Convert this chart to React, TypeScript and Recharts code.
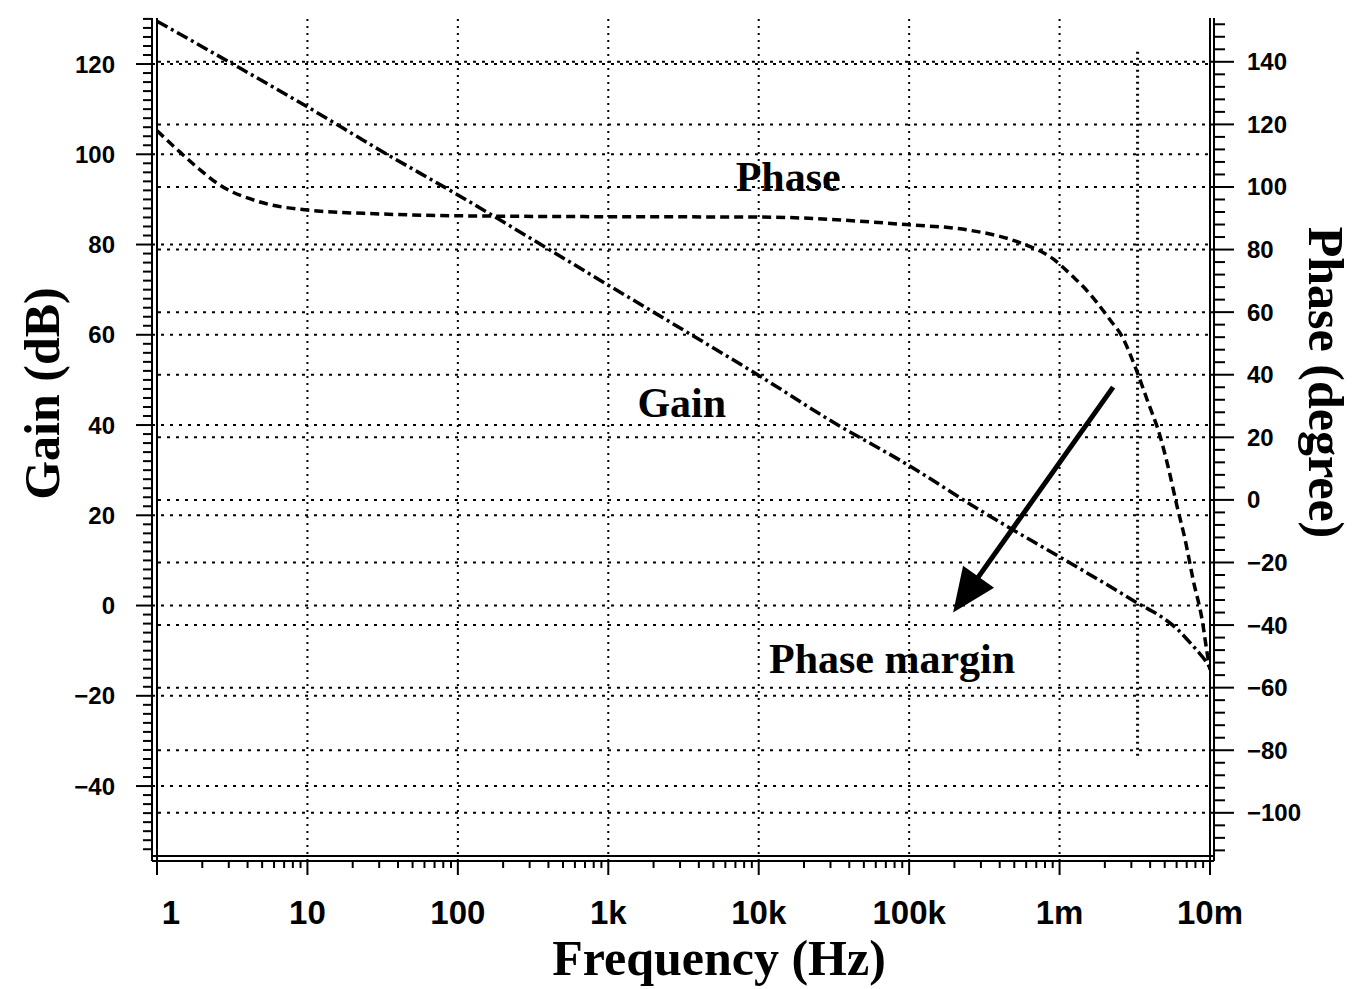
import { LineChart, Line, XAxis, YAxis, ReferenceLine, ReferenceDot } from 'recharts';

// gain curve (Hz, dB)
const gainFreq = [1, 3, 10, 30, 100, 300, 1e3, 3e3, 1e4, 3e4, 1e5, 3e5, 1e6, 2e6, 3.28e6, 5e6, 6.05e6, 7e6, 8.22e6, 9.5e6, 1e7];
const gainDb = [129.5, 120.5, 110.5, 101, 91, 81.5, 71, 61.5, 51, 41, 31, 21, 10.8, 4.9, 0.6, -3.0, -5.2, -7.4, -10, -12.6, -13.8];

// phase curve (Hz, degree)
const phaseFreq = [
  1, 1.36, 1.93, 2.6, 4.84, 9.6, 30, 100, 1e3, 1e4, 1e5, 2.43e5, 5.23e5, 9.06e5, 1.23e6, 1.44e6, 2.17e6, 2.61e6,
  3.18e6, 3.82e6, 4.67e6, 5.27e6, 6.05e6, 6.84e6, 7.73e6, 8.87e6, 9.57e6, 1e7,
];
const phaseDeg = [
  118, 112, 105.5, 100.7, 95.2, 92.7, 91.4, 90.8, 90.5, 90.4, 87.9, 86.3, 82.5, 77, 71.3, 68.1, 57.5, 52.1,
  42.5, 32, 20.2, 10.5, -2.2, -12.8, -25.6, -38.4, -48.9, -54.3,
];

const decades = [1, 10, 100, 1e3, 1e4, 1e5, 1e6, 1e7];
const decadeLabels = ['1', '10', '100', '1k', '10k', '100k', '1m', '10m'];

const gainDomain = [-55.5, 130.2];
const phaseDomain = [-113.8, 154];
const gainGrid = [120, 100, 80, 60, 40, 20, 0, -20, -40];
const phaseGrid = [140, 120, 100, 80, 60, 40, 20, 0, -20, -40, -60, -80, -100];

// crossover marker and annotation
const crossFreq = 3.3e6;
const crossSpan = [122.7, -34];
const arrowFrom = { f: 2.27e6, g: 48.4 };
const arrowTo = { f: 1.96e5, g: -1.55 };
const noteText = ['Phase', 'Gain', 'Phase margin'];
const noteFreq = [15700, 3080, 77000];
const noteGain = [91.9, 41.7, -14.9];

const gainData = gainFreq.map((f, i) => ({ f, v: gainDb[i] }));
const phaseData = phaseFreq.map((f, i) => ({ f, v: phaseDeg[i] }));

const xTicks: number[] = [];
decades.slice(0, -1).forEach((d) => {
  for (let k = 1; k < 10; k++) xTicks.push(d * k);
});
xTicks.push(1e7);

const gainTicks: number[] = [];
for (let v = -54; v <= 130; v += 2) gainTicks.push(v);
const phaseTicks: number[] = [];
for (let v = -112; v <= 152; v += 4) phaseTicks.push(v);

const sans = '"Liberation Sans", Arial, sans-serif';
const serif = '"Liberation Serif", "Times New Roman", serif';
const fmt = (v: number) => (v < 0 ? `\u2212${-v}` : `${v}`);

const GainTick = ({ x, y, payload }: any) => {
  const v = payload.value;
  const major = v % 20 === 0;
  return (
    <g>
      <line x1={x} y1={y} x2={x - (major ? 16 : 9)} y2={y} stroke="#000" strokeWidth={2} />
      {major && (
        <text x={x - 37} y={y} textAnchor="end" dominantBaseline="central" fontFamily={sans} fontWeight={700} fontSize={24} fill="#000">
          {fmt(v)}
        </text>
      )}
    </g>
  );
};

const PhaseTick = ({ x, y, payload }: any) => {
  const v = payload.value;
  const major = v % 20 === 0;
  return (
    <g>
      <line x1={x} y1={y} x2={x + (major ? 20 : 11)} y2={y} stroke="#000" strokeWidth={2} />
      {major && (
        <text x={x + 33} y={y} textAnchor="start" dominantBaseline="central" fontFamily={sans} fontWeight={700} fontSize={24} fill="#000">
          {fmt(v)}
        </text>
      )}
    </g>
  );
};

const FreqTick = ({ x, y, payload }: any) => {
  const v = payload.value;
  const idx = decades.indexOf(v);
  const major = idx >= 0;
  return (
    <g>
      <line x1={x} y1={y} x2={x} y2={y + (major ? 14 : 7)} stroke="#000" strokeWidth={2} />
      {major && (
        <text x={x + (idx === 0 ? 14 : 0)} y={y + 63} textAnchor="middle" fontFamily={sans} fontWeight={700} fontSize={33} fill="#000">
          {decadeLabels[idx]}
        </text>
      )}
    </g>
  );
};

const Arrow = ({ x1, y1, x2, y2 }: any) => {
  const dx = x2 - x1;
  const dy = y2 - y1;
  const len = Math.hypot(dx, dy);
  const ux = dx / len;
  const uy = dy / len;
  const head = 44;
  const half = 19;
  const bx = x2 - ux * head;
  const by = y2 - uy * head;
  return (
    <g>
      <line x1={x1} y1={y1} x2={bx + ux * 4} y2={by + uy * 4} stroke="#000" strokeWidth={5} />
      <polygon points={`${x2},${y2} ${bx - uy * half},${by + ux * half} ${bx + uy * half},${by - ux * half}`} fill="#000" />
    </g>
  );
};

const titleStyle = { fontFamily: serif, fontWeight: 700, fontSize: 50, fill: '#000' };

export default function App() {
  return (
    <div style={{ position: 'absolute', left: 0, top: 0, width: 1354, height: 989, background: '#fff', overflow: 'hidden' }}>
      <LineChart width={1354} height={989} margin={{ top: 18, right: 0, bottom: 0, left: 0 }}>
        <XAxis
          xAxisId="f"
          dataKey="f"
          type="number"
          scale="log"
          domain={[1, 1e7]}
          allowDataOverflow
          ticks={xTicks}
          interval={0}
          padding={{ left: 5, right: 4 }}
          height={128}
          tickSize={0}
          tickMargin={0}
          tickLine={false}
          axisLine={{ stroke: '#000', strokeWidth: 2 }}
          tick={<FreqTick />}
          label={(p: any) => (
            <text x={p.viewBox.x + p.viewBox.width / 2 + 36} y={p.viewBox.y + 114} textAnchor="middle" style={titleStyle}>
              Frequency (Hz)
            </text>
          )}
        />
        <YAxis
          yAxisId="gain"
          orientation="left"
          type="number"
          domain={gainDomain}
          allowDataOverflow
          ticks={gainTicks}
          interval={0}
          padding={{ top: 0, bottom: 5 }}
          width={152}
          tickSize={0}
          tickMargin={0}
          tickLine={false}
          axisLine={{ stroke: '#000', strokeWidth: 2 }}
          tick={<GainTick />}
          label={(p: any) => {
            const cx = p.viewBox.x + 42;
            const cy = p.viewBox.y + p.viewBox.height / 2 - 46;
            return (
              <text x={cx} y={cy} transform={`rotate(-90 ${cx} ${cy})`} textAnchor="middle" dominantBaseline="central" style={titleStyle}>
                Gain (dB)
              </text>
            );
          }}
        />
        <YAxis
          yAxisId="phase"
          orientation="right"
          type="number"
          domain={phaseDomain}
          allowDataOverflow
          ticks={phaseTicks}
          interval={0}
          padding={{ top: 0, bottom: 5 }}
          width={140}
          tickSize={0}
          tickMargin={0}
          tickLine={false}
          axisLine={{ stroke: '#000', strokeWidth: 2 }}
          tick={<PhaseTick />}
          label={(p: any) => {
            const cx = p.viewBox.x + 112;
            const cy = p.viewBox.y + p.viewBox.height / 2 - 57;
            return (
              <text x={cx} y={cy} transform={`rotate(90 ${cx} ${cy})`} textAnchor="middle" dominantBaseline="central" style={titleStyle}>
                Phase (degree)
              </text>
            );
          }}
        />

        {/* dotted grid */}
        {decades.slice(1, -1).map((d) => (
          <ReferenceLine key={`v${d}`} xAxisId="f" yAxisId="gain" x={d} stroke="#000" strokeWidth={2} strokeDasharray="2 5" />
        ))}
        {gainGrid.map((g) => (
          <ReferenceLine key={`g${g}`} xAxisId="f" yAxisId="gain" y={g} stroke="#000" strokeWidth={2} strokeDasharray="3 6" />
        ))}
        {phaseGrid.map((p) => (
          <ReferenceLine key={`p${p}`} xAxisId="f" yAxisId="phase" y={p} stroke="#000" strokeWidth={2} strokeDasharray="3 6" />
        ))}

        {/* inner frame */}
        <ReferenceLine xAxisId="f" yAxisId="gain" x={1} stroke="#000" strokeWidth={2} ifOverflow="visible" />
        <ReferenceLine xAxisId="f" yAxisId="gain" x={1e7} stroke="#000" strokeWidth={2} ifOverflow="visible" />
        <ReferenceLine xAxisId="f" yAxisId="gain" y={gainDomain[0]} stroke="#000" strokeWidth={2} ifOverflow="visible" />

        <ReferenceLine
          xAxisId="f"
          yAxisId="gain"
          segment={[{ x: crossFreq, y: crossSpan[0] }, { x: crossFreq, y: crossSpan[1] }]}
          stroke="#000"
          strokeWidth={3}
          strokeDasharray="2 4"
        />

        <Line xAxisId="f" yAxisId="gain" data={gainData} dataKey="v" type="monotone" stroke="#000" strokeWidth={3.5} strokeDasharray="12 4 3 4" dot={false} isAnimationActive={false} />
        <Line xAxisId="f" yAxisId="phase" data={phaseData} dataKey="v" type="monotone" stroke="#000" strokeWidth={3.5} strokeDasharray="9 5" dot={false} isAnimationActive={false} />

        <ReferenceLine
          xAxisId="f"
          yAxisId="gain"
          segment={[{ x: arrowFrom.f, y: arrowFrom.g }, { x: arrowTo.f, y: arrowTo.g }]}
          shape={<Arrow />}
        />

        {noteText.map((t, i) => (
          <ReferenceDot
            key={t}
            xAxisId="f"
            yAxisId="gain"
            x={noteFreq[i]}
            y={noteGain[i]}
            r={0}
            shape={(p: any) => (
              <text x={p.cx} y={p.cy} textAnchor="middle" fontFamily={serif} fontWeight={700} fontSize={42} fill="#000">
                {t}
              </text>
            )}
          />
        ))}
      </LineChart>
    </div>
  );
}
